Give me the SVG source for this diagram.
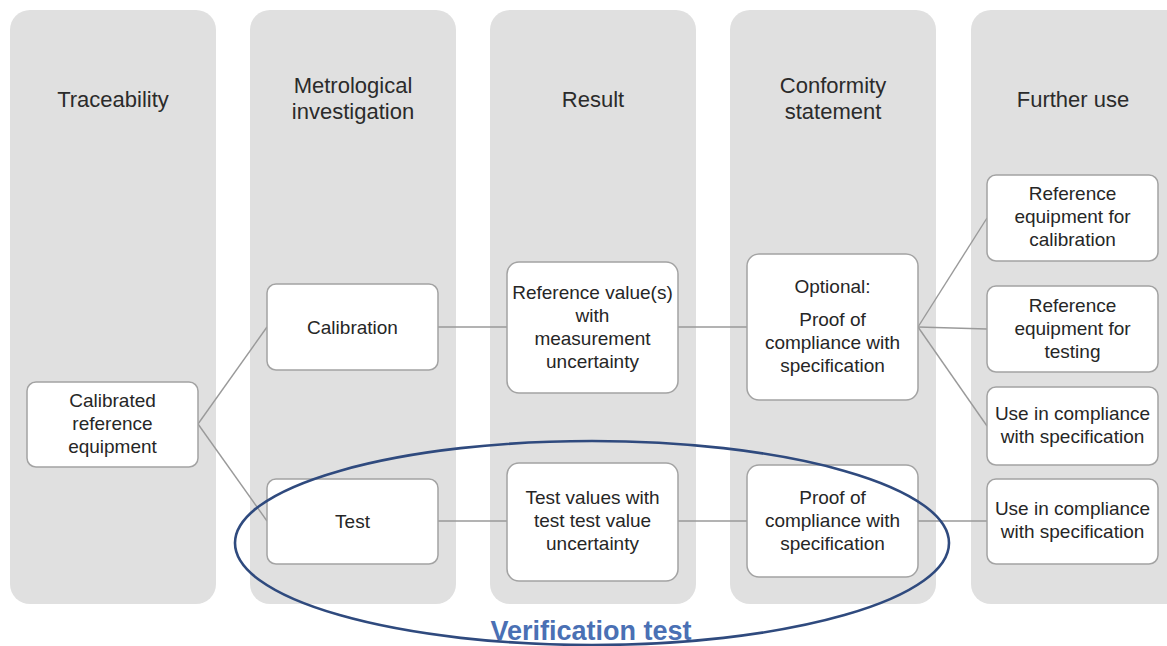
<svg xmlns="http://www.w3.org/2000/svg" width="1167" height="646" viewBox="0 0 1167 646">
  <style>
    .lane { fill: #e0e0e0; }
    .head { font-family: "Liberation Sans", Arial, sans-serif; font-size: 22px; fill: #2b2b2b; text-anchor: middle; }
    .box { fill: #ffffff; stroke: #a3a3a3; stroke-width: 1.5; }
    .lbl { font-family: "Liberation Sans", Arial, sans-serif; font-size: 19px; fill: #262626; text-anchor: middle; }
    .link { stroke: #9a9a9a; stroke-width: 1.4; fill: none; }
    .ring { fill: none; stroke: #2f4a7e; stroke-width: 2.6; }
    .tag { font-family: "Liberation Sans", Arial, sans-serif; font-size: 27px; font-weight: bold; fill: #4a70b4; text-anchor: middle; }
  </style>

  <rect width="1167" height="646" fill="#ffffff"/>

  <!-- swimlanes -->
  <g id="lanes">
    <g id="lane-traceability">
      <rect class="lane" x="10" y="10" width="206" height="594" rx="20"/>
      <text class="head" x="113" y="107">Traceability</text>
    </g>
    <g id="lane-investigation">
      <rect class="lane" x="250" y="10" width="206" height="594" rx="20"/>
      <text class="head" x="353" y="93">Metrological</text>
      <text class="head" x="353" y="119">investigation</text>
    </g>
    <g id="lane-result">
      <rect class="lane" x="490" y="10" width="206" height="594" rx="20"/>
      <text class="head" x="593" y="107">Result</text>
    </g>
    <g id="lane-conformity">
      <rect class="lane" x="730" y="10" width="206" height="594" rx="20"/>
      <text class="head" x="833" y="93">Conformity</text>
      <text class="head" x="833" y="119">statement</text>
    </g>
    <g id="lane-further">
      <rect class="lane" x="971" y="10" width="220" height="594" rx="20"/>
      <text class="head" x="1073" y="107">Further use</text>
    </g>
  </g>

  <!-- connectors -->
  <g id="connectors">
    <line class="link" x1="198" y1="424" x2="267" y2="327"/>
    <line class="link" x1="198" y1="424" x2="267" y2="521"/>
    <line class="link" x1="438" y1="327" x2="507" y2="327"/>
    <line class="link" x1="678" y1="327" x2="747" y2="327"/>
    <line class="link" x1="438" y1="521" x2="507" y2="521"/>
    <line class="link" x1="678" y1="521" x2="747" y2="521"/>
    <line class="link" x1="918" y1="327" x2="987" y2="218"/>
    <line class="link" x1="918" y1="327" x2="987" y2="329"/>
    <line class="link" x1="918" y1="327" x2="987" y2="426"/>
    <line class="link" x1="918" y1="521" x2="987" y2="521"/>
  </g>

  <!-- nodes -->
  <g id="calibrated-reference">
    <rect class="box" x="27" y="382" width="171" height="85" rx="9"/>
    <text class="lbl" x="112.5" y="407">Calibrated</text>
    <text class="lbl" x="112.5" y="430">reference</text>
    <text class="lbl" x="112.5" y="453">equipment</text>
  </g>
  <g id="calibration">
    <rect class="box" x="267" y="284" width="171" height="86" rx="9"/>
    <text class="lbl" x="352.5" y="334">Calibration</text>
  </g>
  <g id="test">
    <rect class="box" x="267" y="479" width="171" height="85" rx="9"/>
    <text class="lbl" x="352.5" y="528">Test</text>
  </g>
  <g id="reference-values">
    <rect class="box" x="507" y="262" width="171" height="131" rx="12"/>
    <text class="lbl" x="592.5" y="299">Reference value(s)</text>
    <text class="lbl" x="592.5" y="322">with</text>
    <text class="lbl" x="592.5" y="345">measurement</text>
    <text class="lbl" x="592.5" y="368">uncertainty</text>
  </g>
  <g id="test-values">
    <rect class="box" x="507" y="463" width="171" height="118" rx="12"/>
    <text class="lbl" x="592.5" y="504">Test values with</text>
    <text class="lbl" x="592.5" y="527">test test value</text>
    <text class="lbl" x="592.5" y="550">uncertainty</text>
  </g>
  <g id="optional-proof">
    <rect class="box" x="747" y="254" width="171" height="146" rx="12"/>
    <text class="lbl" x="832.5" y="293">Optional:</text>
    <text class="lbl" x="832.5" y="326">Proof of</text>
    <text class="lbl" x="832.5" y="349">compliance with</text>
    <text class="lbl" x="832.5" y="372">specification</text>
  </g>
  <g id="proof">
    <rect class="box" x="747" y="465" width="171" height="112" rx="12"/>
    <text class="lbl" x="832.5" y="504">Proof of</text>
    <text class="lbl" x="832.5" y="527">compliance with</text>
    <text class="lbl" x="832.5" y="550">specification</text>
  </g>
  <g id="ref-for-calibration">
    <rect class="box" x="987" y="175" width="171" height="86" rx="9"/>
    <text class="lbl" x="1072.5" y="200">Reference</text>
    <text class="lbl" x="1072.5" y="223">equipment for</text>
    <text class="lbl" x="1072.5" y="246">calibration</text>
  </g>
  <g id="ref-for-testing">
    <rect class="box" x="987" y="286" width="171" height="86" rx="9"/>
    <text class="lbl" x="1072.5" y="312">Reference</text>
    <text class="lbl" x="1072.5" y="335">equipment for</text>
    <text class="lbl" x="1072.5" y="358">testing</text>
  </g>
  <g id="use-upper">
    <rect class="box" x="987" y="387" width="171" height="78" rx="9"/>
    <text class="lbl" x="1072.5" y="420">Use in compliance</text>
    <text class="lbl" x="1072.5" y="443">with specification</text>
  </g>
  <g id="use-lower">
    <rect class="box" x="987" y="479" width="171" height="85" rx="9"/>
    <text class="lbl" x="1072.5" y="515">Use in compliance</text>
    <text class="lbl" x="1072.5" y="538">with specification</text>
  </g>

  <!-- verification test grouping -->
  <g id="verification-test">
    <ellipse class="ring" cx="592" cy="543" rx="357" ry="102"/>
    <text class="tag" x="591" y="640">Verification test</text>
  </g>
</svg>
